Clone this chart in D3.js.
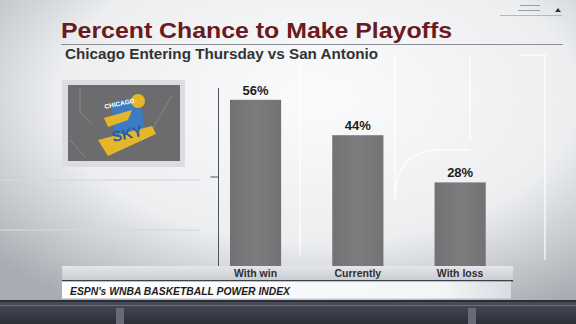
<!DOCTYPE html>
<html><head><meta charset="utf-8">
<script src="https://cdn.jsdelivr.net/npm/d3@7"></script>
<style>html,body{margin:0;padding:0;overflow:hidden;background:#e6e7ea}</style>
</head><body>
<script>
const categories = ["With win", "Currently", "With loss"];
const values = [56, 44, 28];
const valueLabels = ["56%", "44%", "28%"];
const yDomain = [0, 60];
const yTicks = [30];
const title = "Percent Chance to Make Playoffs";
const subtitle = "Chicago Entering Thursday vs San Antonio";
const source = "ESPN's WNBA BASKETBALL POWER INDEX";

const W = 576, H = 324;
const svg = d3.select("body").append("svg").attr("width", W).attr("height", H);
const defs = svg.append("defs");
const FF = "Liberation Sans, Arial, sans-serif";

const bg = defs.append("radialGradient").attr("id","bg").attr("cx","0.55").attr("cy","0.3").attr("r","0.75");
bg.append("stop").attr("offset","0").attr("stop-color","#fbfbfc");
bg.append("stop").attr("offset","0.6").attr("stop-color","#eceef0");
bg.append("stop").attr("offset","1").attr("stop-color","#a9acb2");
svg.append("rect").attr("width",W).attr("height",H).attr("fill","url(#bg)");

// faint background decorations
const deco = svg.append("g").attr("stroke","#ffffff").attr("stroke-opacity",0.8).attr("fill","none").attr("stroke-width",1.5);
deco.append("path").attr("d","M300,55 L300,255 M395,55 L395,200 Q395,150 440,150 L470,150 M470,55 L470,140 M520,55 L545,55 L545,260");
deco.append("path").attr("d","M0,180 L200,180 M0,230 L200,230").attr("stroke","#d5d7db");

// top-right decor
const tr = svg.append("g").attr("stroke","#9a9da3").attr("stroke-width",1);
tr.append("line").attr("x1",520).attr("x2",540).attr("y1",5.5).attr("y2",5.5);
tr.append("line").attr("x1",518).attr("x2",540).attr("y1",10.5).attr("y2",10.5);
tr.append("line").attr("x1",500).attr("x2",562).attr("y1",15.5).attr("y2",15.5).attr("stroke","#b5b8bd");
svg.append("path").attr("d","M555,12 L558,8 L561,12 Z").attr("fill","#333");

// title
svg.append("text").attr("x",61).attr("y",37.7).text(title)
  .attr("font-family",FF).attr("font-weight","bold")
  .attr("font-size",21.5).attr("fill","#6a1a20")
  .attr("textLength",391).attr("lengthAdjust","spacingAndGlyphs");
svg.append("line").attr("x1",61).attr("x2",563).attr("y1",44.5).attr("y2",44.5).attr("stroke","#8c8e92").attr("stroke-width",1);
svg.append("text").attr("x",65).attr("y",58.7).text(subtitle)
  .attr("font-family",FF).attr("font-weight","bold")
  .attr("font-size",14).attr("fill","#333333")
  .attr("textLength",313).attr("lengthAdjust","spacingAndGlyphs");

// logo box
svg.append("rect").attr("x",62).attr("y",80).attr("width",123).attr("height",87).attr("fill","#dcdde0");
svg.append("rect").attr("x",68).attr("y",85).attr("width",112).attr("height",76).attr("fill","#6c6c6e");
const lg = svg.append("g");
lg.append("path").attr("d","M80,88 L80,112 L92,124 M172,95 L152,130 M70,140 L86,158").attr("stroke","#87878a").attr("fill","none");
lg.append("path").attr("d","M112,103 L140,96 L146,138 L116,150 Z").attr("fill","#3d7bc4");
lg.append("path").attr("d","M104,118 L132,110 L128,120 L108,127 Z M98,140 L152,126 L156,134 L108,156 Z").attr("fill","#e6b62a");
lg.append("circle").attr("cx",138).attr("cy",101).attr("r",7).attr("fill","#e6b62a");
lg.append("text").attr("x",105).attr("y",109).text("CHICAGO").attr("font-family",FF).attr("font-weight","bold").attr("font-size",6.5).attr("fill","#ffffff").attr("transform","rotate(-12,105,109)");
lg.append("text").attr("x",113).attr("y",142).text("SKY").attr("font-family",FF).attr("font-weight","bold").attr("font-size",15).attr("fill","#285d9e").attr("transform","rotate(-12,113,142)");

// scales
const x = d3.scaleBand().domain(categories).range([204.4, 511.3]).paddingInner(0.5).paddingOuter(0.25);
const y = d3.scaleLinear().domain(yDomain).range([265, 88]);

// axis
const yAxis = d3.axisLeft(y).tickValues(yTicks).tickSize(8).tickFormat("");
const ag = svg.append("g").attr("transform","translate(218.5,0)").call(yAxis);
ag.select(".domain").attr("stroke","#505358").attr("d","M0,88V268");
ag.selectAll(".tick line").attr("stroke","#505358");

// bars
const bgrad = defs.append("linearGradient").attr("id","bar").attr("x1","0").attr("x2","1");
bgrad.append("stop").attr("offset","0").attr("stop-color","#727274");
bgrad.append("stop").attr("offset","0.5").attr("stop-color","#7c7c7e");
bgrad.append("stop").attr("offset","1").attr("stop-color","#737375");
const data = categories.map((c,i)=>({c, v: values[i], l: valueLabels[i]}));
svg.selectAll("rect.bar").data(data).join("rect").attr("class","bar")
  .attr("x",d=>x(d.c)).attr("width",x.bandwidth())
  .attr("y",d=>y(d.v)).attr("height",d=>y(0)-y(d.v)+3)
  .attr("fill","url(#bar)");
svg.selectAll("text.val").data(data).join("text").attr("class","val")
  .attr("x",d=>x(d.c)+x.bandwidth()/2).attr("y",d=>y(d.v)-5)
  .attr("text-anchor","middle").text(d=>d.l)
  .attr("font-family",FF).attr("font-weight","bold")
  .attr("font-size",13).attr("fill","#1e1e1e");

// label band
const lb = defs.append("linearGradient").attr("id","lb").attr("x1","0").attr("x2","0").attr("y1","0").attr("y2","1");
lb.append("stop").attr("offset","0").attr("stop-color","#e4e6e9");
lb.append("stop").attr("offset","1").attr("stop-color","#c9ccd1");
svg.append("rect").attr("x",62).attr("y",266).attr("width",451).attr("height",14).attr("fill","url(#lb)");
svg.selectAll("text.cat").data(data).join("text").attr("class","cat")
  .attr("x",d=>x(d.c)+x.bandwidth()/2).attr("y",277)
  .attr("text-anchor","middle").text(d=>d.c)
  .attr("font-family",FF).attr("font-weight","bold")
  .attr("font-size",10.5).attr("fill","#2e2e30");

// footer
svg.append("rect").attr("x",62).attr("y",280).attr("width",451).attr("height",1.5).attr("fill","#3c4049");
const fb = defs.append("linearGradient").attr("id","fb").attr("x1","0").attr("x2","1");
fb.append("stop").attr("offset","0").attr("stop-color","#ffffff");
fb.append("stop").attr("offset","0.85").attr("stop-color","#f4f5f7");
fb.append("stop").attr("offset","1").attr("stop-color","#d9dce1");
svg.append("rect").attr("x",62).attr("y",281.5).attr("width",449).attr("height",17).attr("fill","url(#fb)");
svg.append("text").attr("x",70).attr("y",295).text(source)
  .attr("font-family",FF).attr("font-weight","bold").attr("font-style","italic")
  .attr("font-size",10).attr("fill","#1c1c1e")
  .attr("textLength",220).attr("lengthAdjust","spacingAndGlyphs");

// bottom dark area
const db = defs.append("linearGradient").attr("id","db").attr("x1","0").attr("x2","0").attr("y1","0").attr("y2","1");
db.append("stop").attr("offset","0").attr("stop-color","#4a4f5a");
db.append("stop").attr("offset","1").attr("stop-color","#2b2f38");
svg.append("rect").attr("x",0).attr("y",300).attr("width",W).attr("height",24).attr("fill","url(#db)");
svg.append("rect").attr("x",0).attr("y",300).attr("width",W).attr("height",2).attr("fill","#2a2d35");
svg.append("rect").attr("x",0).attr("y",305).attr("width",W).attr("height",1).attr("fill","#6a6f7a");
svg.append("rect").attr("x",116).attr("y",308).attr("width",8).attr("height",16).attr("fill","#666b75");
svg.append("rect").attr("x",468).attr("y",308).attr("width",8).attr("height",16).attr("fill","#666b75");
</script>
</body></html>
